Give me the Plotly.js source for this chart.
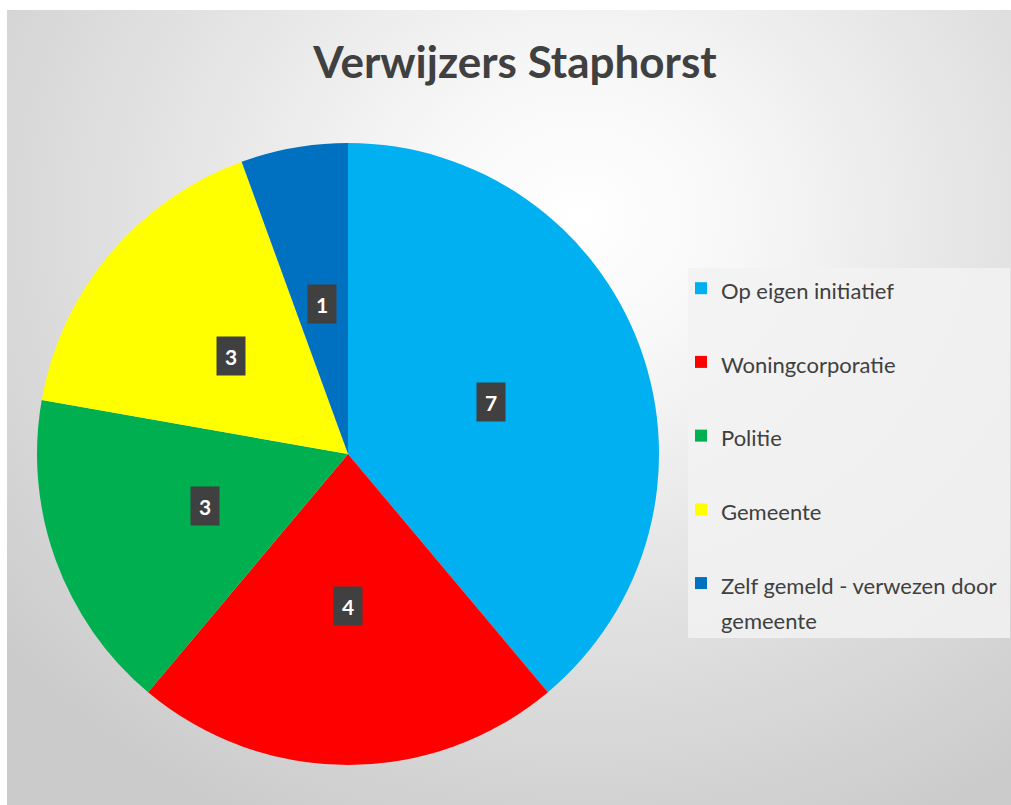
<!DOCTYPE html>
<html>
<head>
<meta charset="utf-8">
<script src="https://cdn.plot.ly/plotly-3.0.1.min.js"></script>
<style>
  html, body { margin: 0; padding: 0; background: #ffffff; }
  #chart {
    width: 1011px; height: 805px;
    background:
      radial-gradient(ellipse 75% 85% at 57% 26%, #ffffff 0%, #f7f7f7 22%, #e2e2e2 58%, #cbcbcb 100%) 7px 10px / 1004px 795px no-repeat,
      #ffffff;
  }
</style>
</head>
<body>
<div id="chart"></div>
<script>
// Data
const categories = ["Op eigen initiatief", "Woningcorporatie", "Politie", "Gemeente", "Zelf gemeld - verwezen door gemeente"];
const values = [7, 4, 3, 3, 1];
const colors = ["#00B0F0", "#FF0000", "#00B050", "#FFFF00", "#0070C0"];
const chartTitle = "Verwijzers Staphorst";

// Layout geometry
const W = 1011, H = 805;
const domX = [37 / W, 659 / W];
const domY = [1 - 765 / H, 1 - 143 / H];

// Legend display labels (a second line gives Excel-like spacing)
const big = (s) => '<span style="font-size:22px">' + s + '</span>';
const legendLabels = categories.map((c) => {
  if (c === "Zelf gemeld - verwezen door gemeente") return big("Zelf gemeld - verwezen door") + "<br>" + big("gemeente");
  return big(c) + "<br>\u00a0";
});

const trace = {
  type: "pie",
  labels: legendLabels,
  values: values,
  sort: false,
  direction: "clockwise",
  rotation: 0,
  marker: { colors: colors, line: { width: 0 } },
  textinfo: "none",
  hoverinfo: "value",
  domain: { x: domX, y: domY },
  showlegend: true
};

// Data labels: computed from values, placed at ~0.49 R along each slice's mid angle
const total = values.reduce((a, b) => a + b, 0);
const cxP = (domX[0] + domX[1]) / 2, cyP = (domY[0] + domY[1]) / 2;
const Rpx = Math.min((domX[1] - domX[0]) * W, (domY[1] - domY[0]) * H) / 2;
let cum = 0;
const annotations = values.map((v) => {
  const mid = (cum + v / 2) / total * 2 * Math.PI;
  cum += v;
  const r = 0.49 * Rpx;
  return {
    xref: "paper", yref: "paper",
    x: cxP + r * Math.sin(mid) / W,
    y: cyP + r * Math.cos(mid) / H,
    text: "<b>" + v + "</b>",
    showarrow: false,
    font: { family: "Lato, 'Open Sans', sans-serif", size: 21, color: "#ffffff" },
    bgcolor: "#404040",
    width: 14, height: 24, borderpad: 7,
    xanchor: "center", yanchor: "middle"
  };
});

const layout = {
  width: W, height: H,
  margin: { l: 0, r: 0, t: 0, b: 0 },
  paper_bgcolor: "rgba(0,0,0,0)",
  plot_bgcolor: "rgba(0,0,0,0)",
  title: {
    text: "<b>" + chartTitle + "</b>",
    font: { family: "Lato, 'Open Sans', sans-serif", size: 44, color: "#404040" },
    x: 515 / W, xanchor: "center", xref: "paper",
    y: 1 - 63 / H, yanchor: "middle", yref: "paper"
  },
  shapes: [{
    type: "rect", xref: "paper", yref: "paper", layer: "below",
    x0: 688 / W, x1: 1010 / W, y0: 1 - 638 / H, y1: 1 - 268 / H,
    fillcolor: "rgba(242,242,242,0.85)", line: { width: 0 }
  }],
  legend: {
    x: 681 / W, xanchor: "left",
    y: 1 - 264 / H, yanchor: "top",
    bgcolor: "rgba(0,0,0,0)",
    borderwidth: 0,
    valign: "top",
    font: { family: "Lato, 'Open Sans', sans-serif", size: 27.2, color: "#404040" },
    itemwidth: 30,
    traceorder: "normal"
  },
  annotations: annotations,
  showlegend: true
};

Plotly.newPlot("chart", [trace], layout, { displayModeBar: false });
</script>
</body>
</html>
